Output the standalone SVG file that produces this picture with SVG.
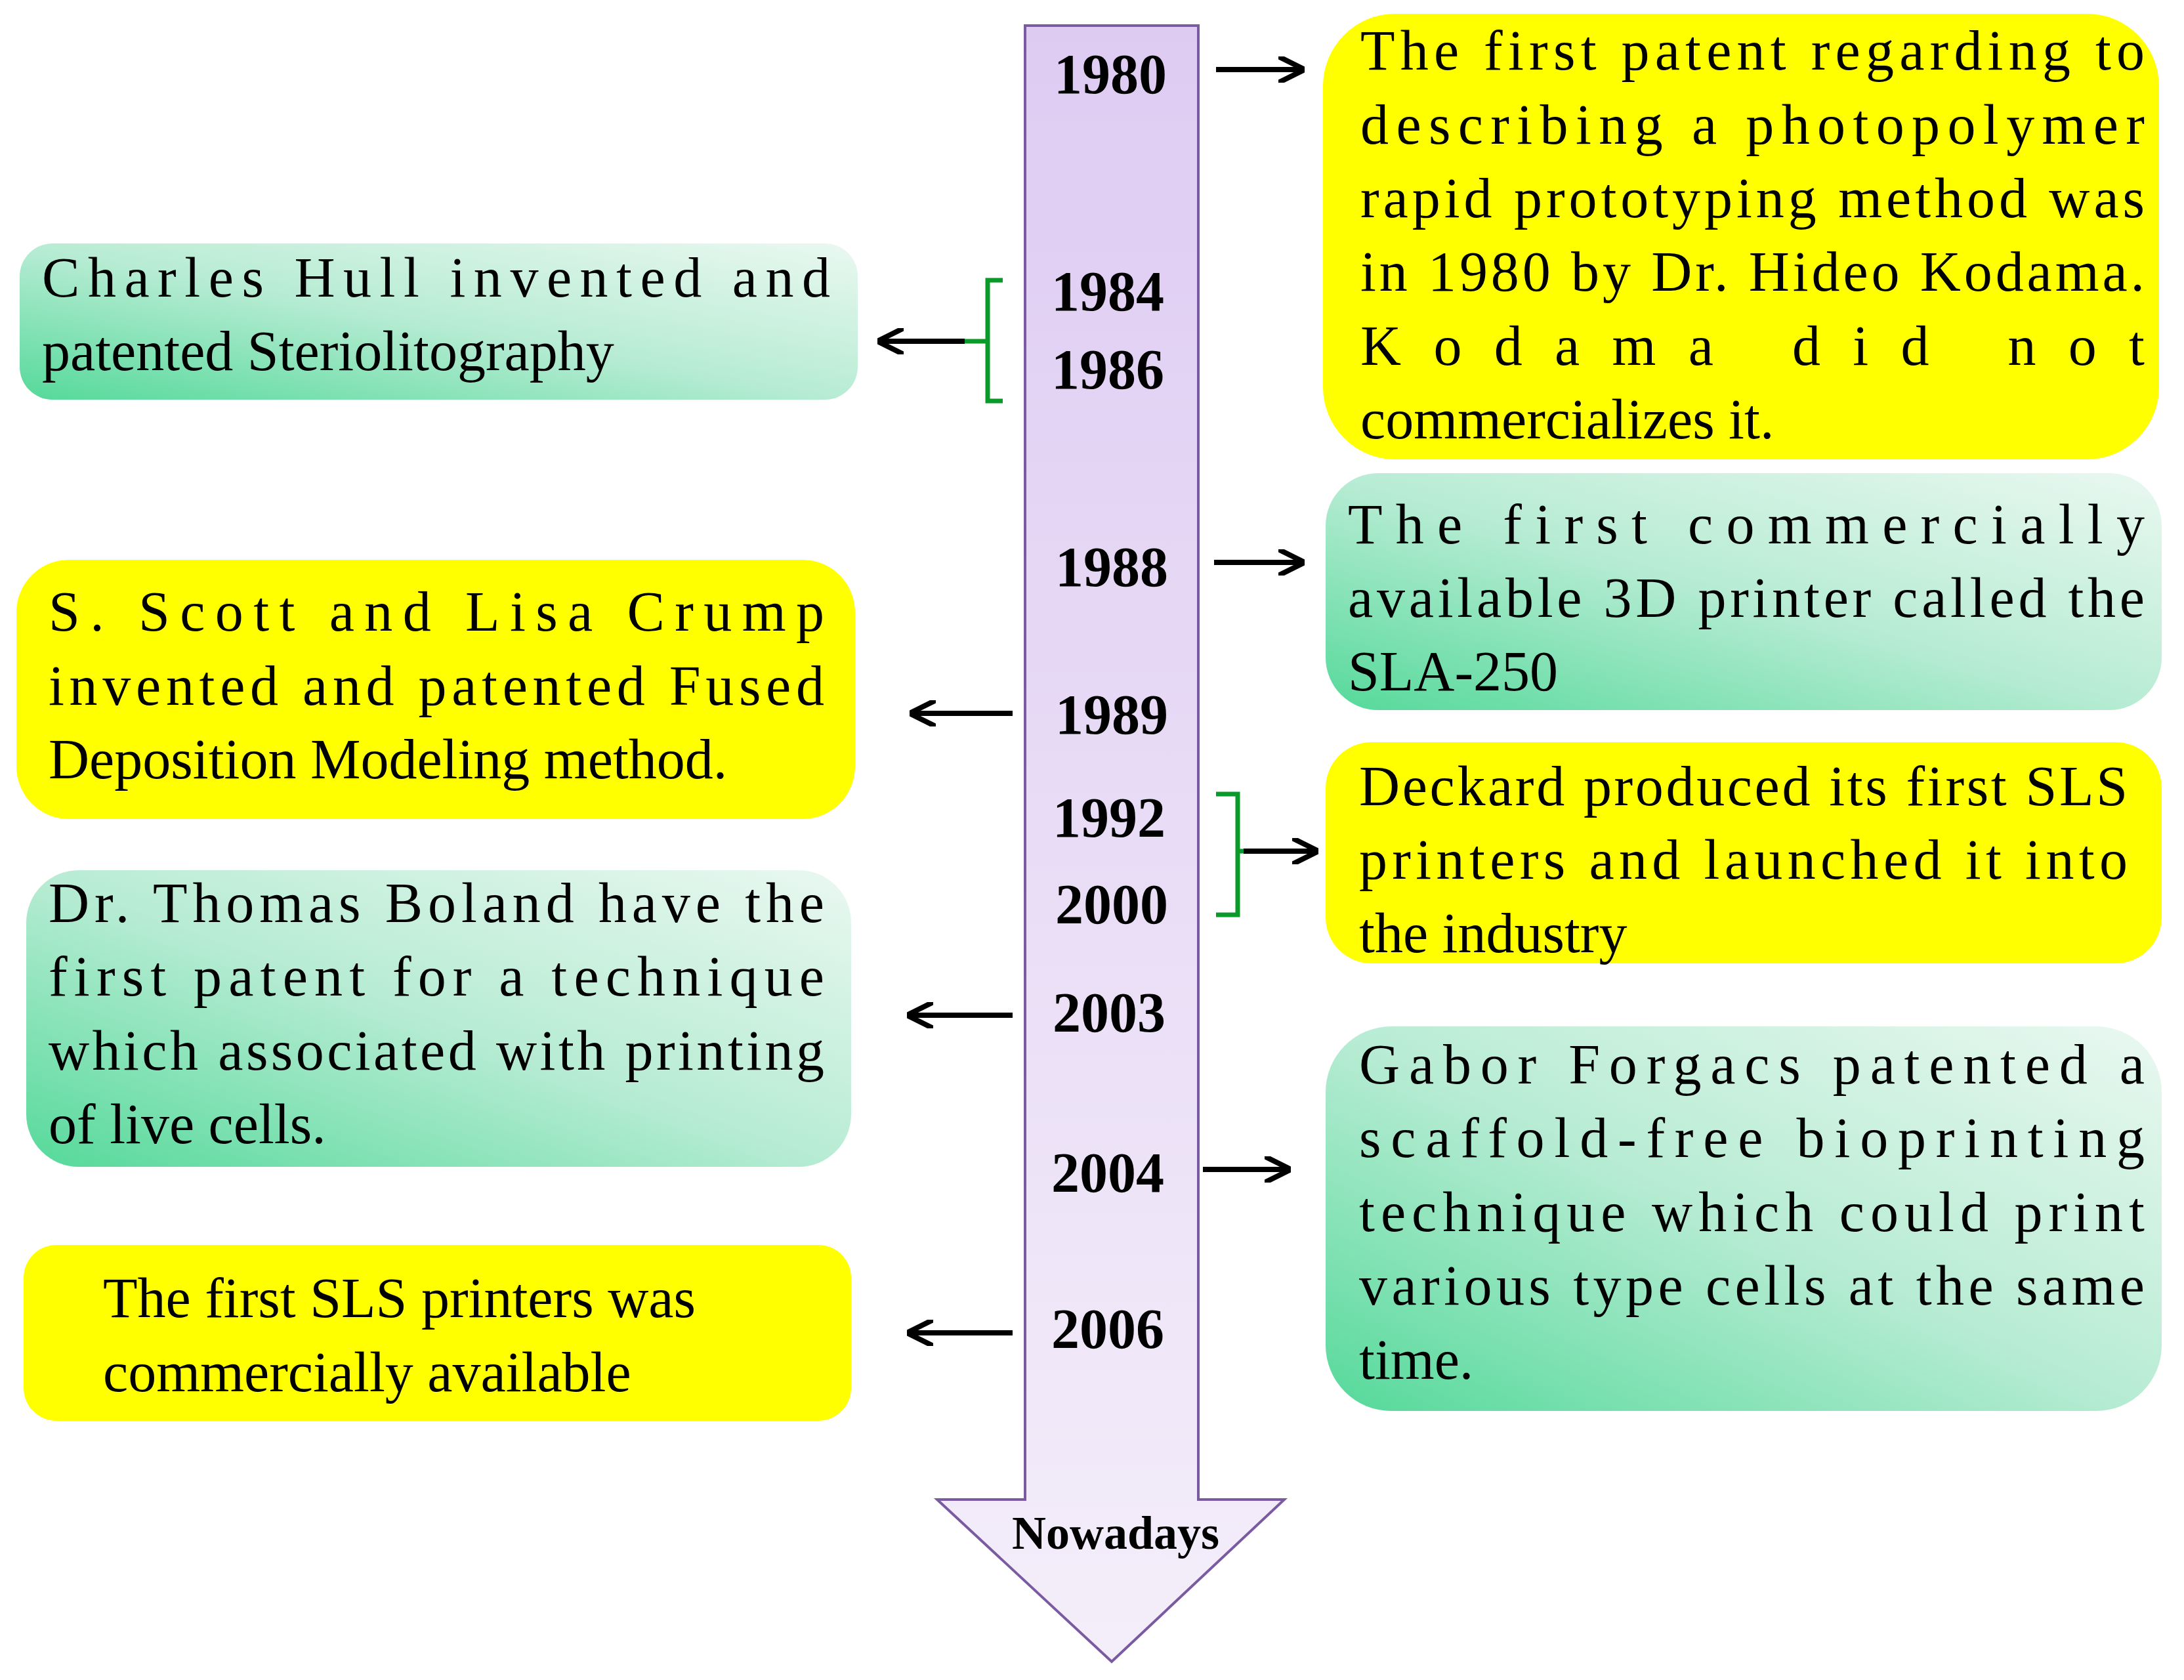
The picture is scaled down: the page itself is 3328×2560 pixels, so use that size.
<svg xmlns="http://www.w3.org/2000/svg" width="3328" height="2560" viewBox="0 0 3328 2560">
<defs>
<linearGradient id="g" x1="0" y1="1" x2="1" y2="0"><stop offset="0" stop-color="#55d99a"/><stop offset="0.5" stop-color="#b8ecd4"/><stop offset="1" stop-color="#eaf8f1"/></linearGradient>
<linearGradient id="p" x1="0" y1="0" x2="0" y2="1"><stop offset="0" stop-color="#decbf2"/><stop offset="1" stop-color="#f4eefa"/></linearGradient>
<marker id="a" viewBox="0 0 10 10" refX="9" refY="5" markerWidth="5" markerHeight="5" orient="auto"><path d="M0,0 L10,5 L0,10" fill="none" stroke="#000" stroke-width="2"/></marker>
</defs>
<style>
.t{font-family:"Liberation Serif",serif;font-size:86px;fill:#000}
.y{font-family:"Liberation Serif",serif;font-size:86px;font-weight:bold;text-anchor:middle}
.yb{fill:#ffff00}.gb{fill:url(#g)}
.c{stroke:#000;stroke-width:8;fill:none;marker-end:url(#a)}
.br{stroke:#0a9a2a;stroke-width:7;fill:none}
</style>
<rect width="3328" height="2560" fill="#fff"/>
<g id="timeline">
<path d="M1562,39 H1826 V2285 H1957 L1694,2532 L1428,2285 H1562 Z" fill="url(#p)" stroke="#7a5aa0" stroke-width="4"/>
<text class="y" x="1692" y="142">1980</text>
<text class="y" x="1688" y="473">1984</text>
<text class="y" x="1688" y="592">1986</text>
<text class="y" x="1694" y="893">1988</text>
<text class="y" x="1694" y="1118">1989</text>
<text class="y" x="1690" y="1275">1992</text>
<text class="y" x="1694" y="1407">2000</text>
<text class="y" x="1690" y="1572">2003</text>
<text class="y" x="1688" y="1816">2004</text>
<text class="y" x="1688" y="2054">2006</text>
<text class="y" x="1700" y="2360" style="font-size:72px">Nowadays</text>
</g>
<g id="connectors">
<line class="c" x1="1853" y1="106" x2="1984" y2="106"/>
<line class="c" x1="1850" y1="857" x2="1984" y2="857"/>
<line class="c" x1="1543" y1="1087" x2="1390" y2="1087"/>
<line class="c" x1="1543" y1="1547" x2="1386" y2="1547"/>
<line class="c" x1="1833" y1="1782" x2="1963" y2="1782"/>
<line class="c" x1="1543" y1="2031" x2="1386" y2="2031"/>
<path class="br" d="M1528,427 H1505 V611 H1528 M1505,520 H1470"/>
<line class="c" x1="1470" y1="520" x2="1341" y2="520"/>
<path class="br" d="M1853,1210 H1886 V1394 H1853 M1886,1297 H1900"/>
<line class="c" x1="1895" y1="1297" x2="2005" y2="1297"/>
</g>
<g id="n1980">
<rect class="yb" x="2016" y="21" width="1274" height="679" rx="110"/>
<text class="t"><tspan x="2073" y="106" textLength="1195" lengthAdjust="spacing">The first patent regarding to</tspan><tspan x="2073" y="219" textLength="1195" lengthAdjust="spacing">describing a photopolymer</tspan><tspan x="2073" y="331" textLength="1195" lengthAdjust="spacing">rapid prototyping method was</tspan><tspan x="2073" y="443" textLength="1195" lengthAdjust="spacing">in 1980 by Dr. Hideo Kodama.</tspan><tspan x="2073" y="556" textLength="1195" lengthAdjust="spacing">Kodama did not</tspan><tspan x="2073" y="668">commercializes it.</tspan></text>
</g>
<g id="n1984">
<rect class="gb" x="30" y="371" width="1277" height="238" rx="50"/>
<text class="t"><tspan x="64" y="452" textLength="1201" lengthAdjust="spacing">Charles Hull invented and</tspan><tspan x="64" y="564">patented Steriolitography</tspan></text>
</g>
<g id="n1988">
<rect class="gb" x="2020" y="721" width="1274" height="361" rx="80"/>
<text class="t"><tspan x="2054" y="828" textLength="1214" lengthAdjust="spacing">The first commercially</tspan><tspan x="2054" y="940" textLength="1214" lengthAdjust="spacing">available 3D printer called the</tspan><tspan x="2054" y="1052">SLA-250</tspan></text>
</g>
<g id="n1989">
<rect class="yb" x="25" y="853" width="1278" height="395" rx="80"/>
<text class="t"><tspan x="74" y="961" textLength="1182" lengthAdjust="spacing">S. Scott and Lisa Crump</tspan><tspan x="74" y="1074" textLength="1182" lengthAdjust="spacing">invented and patented Fused</tspan><tspan x="74" y="1186">Deposition Modeling method.</tspan></text>
</g>
<g id="n1992">
<rect class="yb" x="2020" y="1131" width="1274" height="337" rx="70"/>
<text class="t"><tspan x="2071" y="1227" textLength="1171" lengthAdjust="spacing">Deckard produced its first SLS</tspan><tspan x="2071" y="1339" textLength="1171" lengthAdjust="spacing">printers and launched it into</tspan><tspan x="2071" y="1451">the industry</tspan></text>
</g>
<g id="n2003">
<rect class="gb" x="40" y="1326" width="1257" height="452" rx="80"/>
<text class="t"><tspan x="74" y="1405" textLength="1182" lengthAdjust="spacing">Dr. Thomas Boland have the</tspan><tspan x="74" y="1517" textLength="1182" lengthAdjust="spacing">first patent for a technique</tspan><tspan x="74" y="1630" textLength="1182" lengthAdjust="spacing">which associated with printing</tspan><tspan x="74" y="1742">of live cells.</tspan></text>
</g>
<g id="n2004">
<rect class="gb" x="2020" y="1564" width="1274" height="586" rx="100"/>
<text class="t"><tspan x="2071" y="1651" textLength="1197" lengthAdjust="spacing">Gabor Forgacs patented a</tspan><tspan x="2071" y="1763" textLength="1197" lengthAdjust="spacing">scaffold-free bioprinting</tspan><tspan x="2071" y="1876" textLength="1197" lengthAdjust="spacing">technique which could print</tspan><tspan x="2071" y="1988" textLength="1197" lengthAdjust="spacing">various type cells at the same</tspan><tspan x="2071" y="2101">time.</tspan></text>
</g>
<g id="n2006">
<rect class="yb" x="36" y="1897" width="1261" height="268" rx="50"/>
<text class="t"><tspan x="157" y="2007">The first SLS printers was</tspan><tspan x="157" y="2120">commercially available</tspan></text>
</g>
</svg>
